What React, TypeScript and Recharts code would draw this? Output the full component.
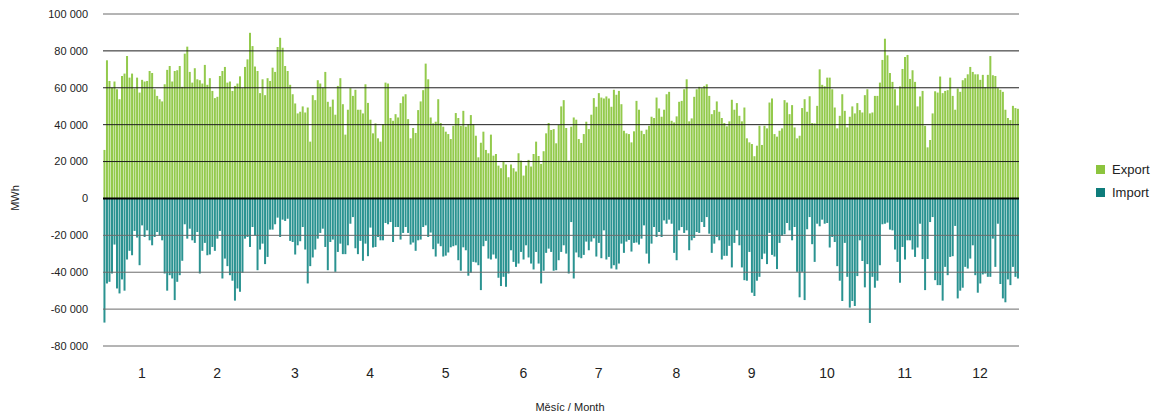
import React from 'react'
import { BarChart, Bar, XAxis, YAxis, ReferenceLine } from 'recharts'

// daily balance, MWh
const exportJan = [26300, 74900, 63700, 60100, 63400, 59200, 53800, 66400, 67700, 77200, 65500, 67700, 59600, 65500, 57400, 64300, 63400, 63700, 69100, 68000, 59200, 55600, 53800, 52600, 61900, 69700, 71800, 63400, 69100, 69500, 71800]
const importJan = [-67300, -46100, -45200, -40700, -25000, -48800, -51500, -43900, -50000, -33100, -28400, -30800, -17600, -21200, -36200, -14600, -20900, -17300, -22700, -25400, -20900, -18200, -20000, -22700, -40700, -50000, -41600, -43400, -55100, -45200, -41600]
const exportFeb = [60500, 78500, 82300, 68600, 62800, 70600, 64600, 64100, 62300, 72400, 61600, 65200, 58300, 54400, 55100, 66400, 69100, 71300, 62800, 63400, 58300, 61000, 62300, 66200, 59800, 71300, 75400, 89800]
const importFeb = [-33800, -14000, -21800, -16400, -22700, -24100, -18200, -40700, -28400, -24100, -30800, -30400, -26300, -28400, -21800, -17600, -43400, -32600, -36700, -41600, -44600, -55400, -48800, -50600, -40300, -21800, -20900, -26300]
const exportMar = [82600, 71500, 69100, 57100, 64600, 56000, 65200, 63700, 70900, 68600, 82100, 87100, 81700, 71800, 69100, 61600, 56500, 51500, 46100, 47000, 49900, 46600, 49300, 30800, 56000, 53300, 64100, 62300, 60100, 68600, 52400]
const importMar = [-15500, -20000, -38900, -27700, -24500, -35600, -31700, -16900, -16900, -14000, -10400, -20900, -11500, -12200, -11000, -23000, -23600, -30400, -25400, -23200, -15500, -27700, -46100, -36700, -32000, -27700, -21800, -18700, -16400, -26300, -38900]
const exportApr = [49700, 53600, 45400, 61000, 65200, 51100, 34600, 48100, 59800, 55600, 58900, 48100, 48100, 46100, 61900, 51800, 42700, 35300, 40700, 32600, 30800, 40300, 62800, 62300, 43600, 42100, 45700, 43900, 51700, 55300]
const importApr = [-23600, -22300, -39800, -29000, -24500, -30200, -30200, -25400, -13700, -10100, -27000, -30200, -23000, -33800, -24500, -31300, -15800, -26600, -26300, -20900, -22700, -22700, -13300, -14000, -12800, -23600, -15500, -15500, -22300, -18700]
const exportMay = [56500, 43000, 32600, 38200, 35500, 47900, 52600, 58700, 73100, 64600, 43900, 40700, 41600, 53800, 40900, 38900, 36200, 34900, 32200, 39400, 46300, 43600, 39400, 47500, 38900, 40300, 45200, 40300, 34000, 22300, 30200]
const importMay = [-15500, -18700, -25000, -23900, -28400, -22700, -22300, -15500, -14600, -20900, -18500, -27500, -31500, -24500, -25900, -31500, -31000, -29300, -26500, -25900, -25400, -33500, -39200, -26500, -28100, -41900, -40300, -34400, -34700, -36200, -49700]
const exportJun = [36200, 26300, 24500, 34600, 23200, 24100, 17800, 16400, 20000, 18400, 11500, 18400, 16400, 14600, 24500, 20500, 12400, 17800, 20900, 17300, 24100, 30800, 23000, 18700, 25600, 35300, 40900, 37100, 37600, 29900]
const importJun = [-25900, -23000, -32600, -33100, -30400, -32600, -43000, -47500, -42500, -47900, -40700, -28100, -34400, -37100, -35300, -29000, -33100, -25400, -32000, -35300, -38500, -29000, -35300, -46100, -39200, -29500, -27200, -29000, -39200, -38900]
const exportJul = [39800, 49900, 53300, 38200, 20500, 38900, 43900, 42700, 32200, 30100, 34900, 41600, 37600, 45400, 54400, 49700, 57100, 54700, 54200, 55300, 54200, 49700, 58900, 56200, 58300, 51100, 36700, 35300, 34900, 30400, 36400]
const importJul = [-33500, -29000, -25400, -29900, -40700, -12800, -43400, -29300, -31900, -32400, -30600, -23400, -28100, -23400, -21600, -31500, -24100, -32400, -17300, -33100, -31700, -38000, -36200, -38500, -35300, -24500, -29500, -23400, -22500, -28800, -24100]
const exportAug = [52900, 48100, 36700, 34900, 37300, 39400, 44300, 43600, 54700, 48800, 44300, 48100, 56500, 57800, 42100, 41200, 44500, 52400, 52900, 59200, 64600, 41800, 43400, 55100, 59200, 60500, 59800, 61000, 61900, 55600, 45700]
const importAug = [-23900, -25000, -21800, -14600, -29900, -35300, -24500, -15500, -20900, -18200, -20900, -11900, -13700, -11500, -13700, -29500, -33500, -17300, -15500, -18700, -17300, -28100, -22700, -21400, -18200, -18700, -12800, -15500, -10100, -19100, -29500]
const exportSep = [47900, 52600, 47000, 43600, 40900, 39100, 41800, 53500, 48100, 51700, 44800, 41800, 49300, 32600, 30400, 29500, 22900, 28600, 39400, 29000, 39400, 38000, 52000, 54200, 34900, 33500, 36700, 38000, 53300, 52000]
const importSep = [-24500, -20900, -22700, -33100, -31100, -31100, -25700, -37400, -24100, -17300, -25400, -37400, -44300, -44600, -29000, -51100, -52900, -44600, -42500, -32900, -29900, -35600, -18700, -30600, -31500, -38300, -24100, -20300, -19400, -13300]
const exportOct = [45700, 50600, 38500, 32600, 34000, 49000, 53800, 47000, 55400, 40900, 40700, 50200, 70000, 61600, 60800, 65500, 65500, 59200, 49300, 38000, 44800, 56500, 47500, 38500, 44300, 49900, 46100, 51700, 47900, 46600, 56000]
const importOct = [-17300, -22700, -15500, -39800, -53600, -39800, -55100, -16700, -10100, -24800, -34400, -13700, -15100, -11500, -13700, -13300, -26600, -20900, -23600, -36700, -44600, -55600, -24100, -42500, -59200, -55600, -58300, -42100, -22700, -33900, -48200]
const exportNov = [59200, 46100, 46600, 55600, 55600, 62800, 75100, 86600, 77600, 68000, 63200, 59200, 50400, 60700, 70200, 76700, 77800, 64800, 69500, 63200, 49900, 55300, 58300, 39400, 27700, 31700, 46100, 58100, 57400, 66100]
const importNov = [-35600, -67500, -42500, -48400, -44600, -36200, -14000, -13700, -13100, -16900, -17300, -27700, -34400, -45700, -26300, -33100, -22700, -22700, -27700, -31700, -26600, -13700, -32900, -49700, -32800, -12800, -10100, -44300, -47000, -47000]
const exportDec = [57100, 58300, 58700, 65500, 55600, 48100, 59600, 57800, 64100, 65200, 67300, 71300, 68600, 67300, 67300, 64300, 67000, 60300, 67000, 77200, 66800, 66400, 59800, 58900, 57800, 48100, 43600, 42500, 50200, 49000, 48600]
const importDec = [-55400, -37100, -41600, -31700, -31300, -14900, -54200, -50000, -48400, -37100, -38000, -32600, -25400, -41600, -51100, -46100, -41200, -40700, -42500, -42500, -21800, -37100, -13700, -46400, -54200, -56300, -43900, -47000, -37100, -42500, -43400]

const exportMonths = [exportJan, exportFeb, exportMar, exportApr, exportMay, exportJun, exportJul, exportAug, exportSep, exportOct, exportNov, exportDec]
const importMonths = [importJan, importFeb, importMar, importApr, importMay, importJun, importJul, importAug, importSep, importOct, importNov, importDec]
const monthLabels = ['1', '2', '3', '4', '5', '6', '7', '8', '9', '10', '11', '12']
const yTicks = [-80000, -60000, -40000, -20000, 0, 20000, 40000, 60000, 80000, 100000]

const data: { day: number; exp: number; imp: number }[] = []
exportMonths.forEach((m, mi) => {
  m.forEach((v, i) => {
    data.push({ day: data.length, exp: v, imp: importMonths[mi][i] })
  })
})

// month labels sit at equal twelfths of the axis, like the original
const labelDays = monthLabels.map((_, i) => Math.floor(((i + 0.5) * data.length) / 12))

const EXPORT_COLOR = '#93ca4c'
const IMPORT_COLOR = '#2a9391'
const FONT = '"Liberation Sans", Arial, sans-serif'

const fmt = (v: number) => {
  const s = String(Math.abs(v)).replace(/\B(?=(\d{3})+(?!\d))/g, ' ')
  return v < 0 ? '-' + s : s
}

const monthOf = (d: number) => monthLabels[labelDays.indexOf(d)] ?? ''

export default function App() {
  return (
    <div style={{ position: 'absolute', left: 0, top: 0, width: 1157, height: 416, background: '#fff', fontFamily: FONT }}>
      <BarChart
        width={1157}
        height={416}
        data={data}
        stackOffset="sign"
        barCategoryGap="18%"
        margin={{ top: 14, right: 138, bottom: 40, left: 0 }}
      >
        <XAxis
          dataKey="day"
          ticks={labelDays}
          interval={0}
          tickFormatter={monthOf}
          axisLine={false}
          tickLine={false}
          tickSize={0}
          tickMargin={22}
          height={30}
          tick={{ fontSize: 14, fill: '#222', fontFamily: FONT }}
        />
        <YAxis
          type="number"
          domain={[-80000, 100000]}
          ticks={yTicks}
          tickFormatter={fmt}
          axisLine={false}
          tickLine={false}
          tickSize={0}
          tickMargin={15}
          width={103}
          tick={{ fontSize: 11, fill: '#222', fontFamily: FONT }}
        />
        <Bar dataKey="exp" stackId="a" fill={EXPORT_COLOR} isAnimationActive={false} />
        <Bar dataKey="imp" stackId="a" fill={IMPORT_COLOR} isAnimationActive={false} />
        {yTicks.map((t) => (
          <ReferenceLine
            key={t}
            y={t}
            stroke={t === 0 ? '#000' : t > 0 && t < 100000 ? '#1e1e1e' : '#6b6b6b'}
            strokeWidth={t === 0 ? 2 : 1}
          />
        ))}
      </BarChart>

      <div style={{ position: 'absolute', left: 15, top: 198, transform: 'translate(-50%, -50%) rotate(-90deg)', fontSize: 11, color: '#222' }}>
        MWh
      </div>
      <div style={{ position: 'absolute', left: 570, top: 407, transform: 'translate(-50%, -50%)', fontSize: 11, color: '#222', whiteSpace: 'nowrap' }}>
        Měsíc / Month
      </div>

      <div style={{ position: 'absolute', left: 1096, top: 158, fontSize: 13, color: '#222', lineHeight: '23px' }}>
        <div style={{ display: 'flex', alignItems: 'center' }}>
          <span style={{ width: 9, height: 9, background: '#8cc43e', marginRight: 7 }} />
          Export
        </div>
        <div style={{ display: 'flex', alignItems: 'center' }}>
          <span style={{ width: 9, height: 9, background: '#0e7c7b', marginRight: 7 }} />
          Import
        </div>
      </div>
    </div>
  )
}
